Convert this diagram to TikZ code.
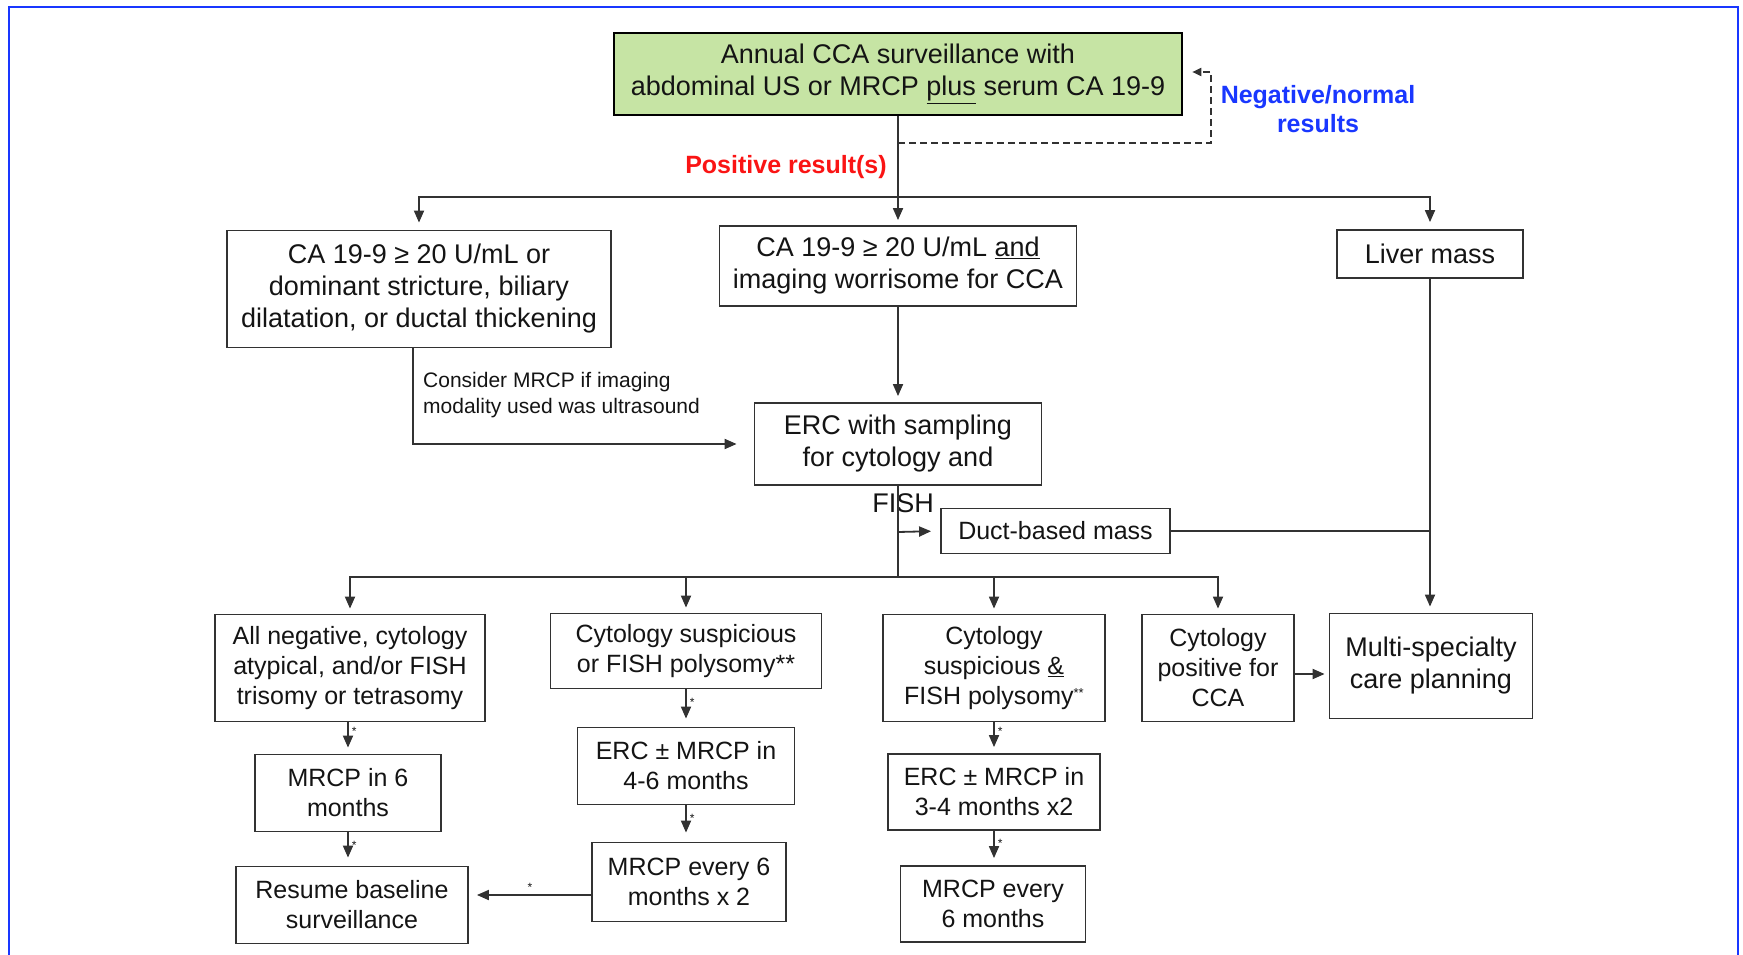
\documentclass[tikz,border=0pt]{standalone}
\usepackage{fontspec}
\setmainfont{Liberation Sans}
\usetikzlibrary{arrows.meta}
\definecolor{frameblue}{RGB}{25,55,255}
\definecolor{boxgreen}{RGB}{198,228,164}
\definecolor{linegray}{RGB}{50,50,50}
\definecolor{txt}{RGB}{20,20,20}
\definecolor{posred}{RGB}{250,20,20}
\begin{document}
\begin{tikzpicture}[x=1pt,y=-1pt,
  box/.style={draw=linegray, line width=1.8pt, inner sep=0pt, align=center, text=txt},
  big/.style={font=\fontsize{27}{32}\selectfont},
  sml/.style={font=\fontsize{25}{30}\selectfont},
  conn/.style={draw=linegray, line width=1.8pt},
  arr/.style={conn, -{Triangle[length=12pt,width=10pt]}},
  starlbl/.style={font=\fontsize{12}{12}\selectfont, inner sep=0pt, text=txt}
]
\useasboundingbox (0,0) rectangle (1743,955);
\draw[frameblue, line width=2.5pt] (9,956) -- (9,7) -- (1738,7) -- (1738,956);

% top
\node[box, big, draw=black, line width=2.6pt, fill=boxgreen, minimum width=568pt, minimum height=82pt]
  (green) at (898,74) {Annual CCA surveillance with\\abdominal US or MRCP \underline{plus} serum CA 19-9};
\node[box, big, minimum width=384pt, minimum height=117pt] (box1) at (419,289)
  {CA 19-9 ≥ 20 U/mL or\\dominant stricture, biliary\\dilatation, or ductal thickening};
\node[box, big, minimum width=357pt, minimum height=80pt] (box2) at (898,266)
  {CA 19-9 ≥ 20 U/mL \underline{and}\\imaging worrisome for CCA};
\node[box, big, minimum width=186pt, minimum height=48pt] (liver) at (1430,254) {Liver mass};
\node[box, big, minimum width=287pt, minimum height=82pt] (erc) at (898,444)
  {ERC with sampling\\for cytology and};
\node[big, text=txt, inner sep=0pt, anchor=base] (fish) at (903,512) {FISH};
\node[box, sml, minimum width=229pt, minimum height=45pt] (duct) at (1055.5,531) {Duct-based mass};

% labels
\node[font=\bfseries\fontsize{25}{29}\selectfont, text=frameblue, align=center, inner sep=0pt]
  (neg) at (1318,109) {Negative/normal\\results};
\node[font=\bfseries\fontsize{25}{29}\selectfont, text=posred, inner sep=0pt]
  (pos) at (786,167) {Positive result(s)};
\node[font=\fontsize{21}{25.5}\selectfont, text=txt, align=left, inner sep=0pt, anchor=west]
  (consider) at (423,395) {Consider MRCP if imaging\\modality used was ultrasound};

% lower row
\node[box, sml, minimum width=270pt, minimum height=107pt] (b1) at (350,668)
  {All negative, cytology\\atypical, and/or FISH\\trisomy or tetrasomy};
\node[box, sml, minimum width=271pt, minimum height=75pt] (b2) at (686,651)
  {Cytology suspicious\\or FISH polysomy**};
\node[box, sml, minimum width=222pt, minimum height=107pt] (b3) at (994,668)
  {Cytology\\suspicious \underline{\&}\\FISH polysomy{\fontsize{13}{13}\selectfont\raisebox{7pt}{**}}};
\node[box, sml, minimum width=152pt, minimum height=107pt] (b4) at (1218,668)
  {Cytology\\positive for\\CCA};
\node[box, big, minimum width=203pt, minimum height=105pt] (multi) at (1431,666)
  {Multi-specialty\\care planning};

\node[box, sml, minimum width=186pt, minimum height=77pt] (mri6) at (348,793) {MRCP in 6\\months};
\node[box, sml, minimum width=232pt, minimum height=77pt] (resume) at (352,905) {Resume baseline\\surveillance};
\node[box, sml, minimum width=217pt, minimum height=77pt] (erc46) at (686,766) {ERC ± MRCP in\\4-6 months};
\node[box, sml, minimum width=194pt, minimum height=79pt] (mrx2) at (689,882) {MRCP every 6\\months x 2};
\node[box, sml, minimum width=212pt, minimum height=76pt] (erc34) at (994,792) {ERC ± MRCP in\\3-4 months x2};
\node[box, sml, minimum width=185pt, minimum height=76pt] (mre6) at (993,904) {MRCP every\\6 months};

% connectors top
\coordinate (busT) at (898,197);
\coordinate (dA) at (898,143);
\coordinate (dB) at (1211,143);
\draw[arr, shorten >=5pt] (green.south) -- (box2.north);
\draw[arr, shorten >=7pt] (busT) -| (box1.north);
\draw[arr, shorten >=7pt] (busT) -| (liver.north);
\draw[conn, dash pattern=on 7pt off 4pt, -{Triangle[length=9pt,width=8pt]}, shorten >=9pt]
  (dA) -- (dB) |- ([yshift=2pt]green.east);
\draw[arr, shorten >=17pt] ([xshift=-6pt]box1.south) |- (erc.west);
\draw[arr, shorten >=6pt] (box2.south) -- (erc.north);

% ERC to lower bus
\coordinate (busB) at (898,577);
\coordinate (ductbr) at (898,532);
\draw[conn] (erc.south) -- (busB);
\draw[arr, shorten >=9pt] (ductbr) -- (duct.west);
\draw[conn] (duct.east) -- (duct.east -| liver.south);
\draw[arr, shorten >=6pt] (liver.south) -- (liver.south |- multi.north);
\draw[arr, shorten >=5pt] (busB) -| (b1.north);
\draw[arr, shorten >=5pt] (busB) -| (b2.north);
\draw[arr, shorten >=5pt] (busB) -| (b3.north);
\draw[arr, shorten >=5pt] (busB) -| (b4.north);
\draw[arr, shorten >=4pt] ([yshift=-6pt]b4.east) -- ([yshift=-6pt]b4.east -| multi.west);

% lower chains
\draw[arr, shorten >=6pt] (b1.south -| mri6.south) -- node[starlbl, anchor=west, xshift=3pt, pos=0.3] {*} (mri6.north);
\draw[arr, shorten >=8pt] (mri6.south) -- node[starlbl, anchor=west, xshift=3pt, pos=0.4] {*} (mri6.south |- resume.north);
\draw[arr, shorten >=8pt] (b2.south) -- node[starlbl, anchor=west, xshift=3pt, pos=0.35] {*} (b2.south |- erc46.north);
\draw[arr, shorten >=9pt] (erc46.south) -- node[starlbl, anchor=west, xshift=3pt, pos=0.35] {*} (erc46.south |- mrx2.north);
\draw[arr, shorten >=8pt] ([yshift=-13pt]mrx2.west) -- node[starlbl, anchor=south, yshift=3pt, pos=0.5] {*} ([yshift=-13pt]mrx2.west -| resume.east);
\draw[arr, shorten >=6pt] (b3.south) -- node[starlbl, anchor=west, xshift=3pt, pos=0.3] {*} (b3.south |- erc34.north);
\draw[arr, shorten >=7pt] (erc34.south) -- node[starlbl, anchor=west, xshift=3pt, pos=0.35] {*} (erc34.south |- mre6.north);
\end{tikzpicture}
\end{document}
